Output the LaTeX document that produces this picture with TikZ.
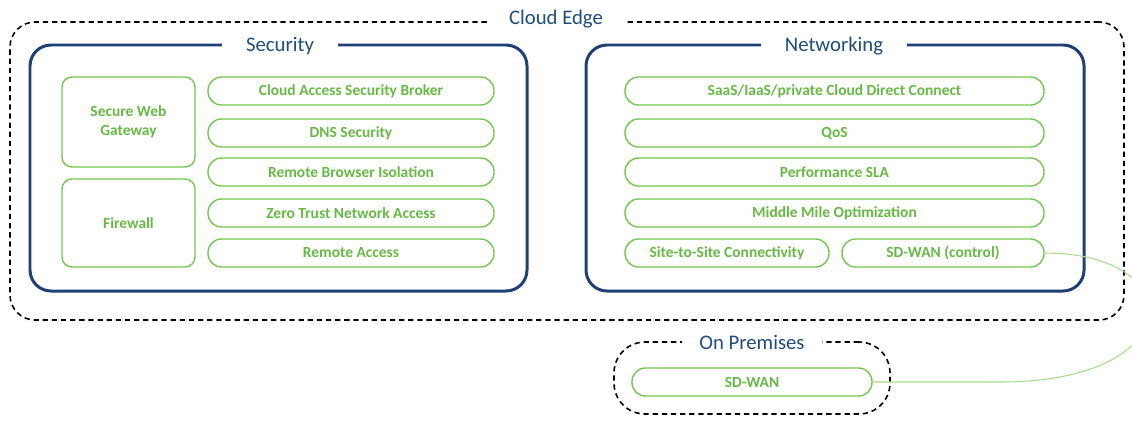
\documentclass[tikz,border=0pt]{standalone}
\usepackage{fontspec}
\setmainfont{Carlito}
\usepackage{xcolor}
\definecolor{edgeNavy}{HTML}{1F3F77}
\definecolor{labelBlue}{HTML}{1F4E79}
\definecolor{pillGreen}{HTML}{74C650}
\definecolor{pillText}{HTML}{66B944}
\definecolor{linkGreen}{HTML}{A6DB8C}
\usepackage{tikz}
\usetikzlibrary{positioning,calc}
\tikzset{
  zone/.style={rectangle,draw=black,line width=0.9pt,dash pattern=on 3pt off 2.2pt,rounded corners=0.5cm},
  group/.style={rectangle,draw=edgeNavy,line width=1.7pt,rounded corners=0.42cm,minimum height=4.92cm},
  title/.style={fill=white,text=labelBlue,font=\fontsize{11.8}{14}\selectfont,inner xsep=0.45cm,inner ysep=2pt},
  pill/.style={rectangle,draw=pillGreen,line width=0.8pt,rounded corners=0.27cm,minimum height=0.56cm,
    text=pillText,font=\bfseries\fontsize{8.8}{10}\selectfont,inner sep=1pt},
  tallbox/.style={rectangle,draw=pillGreen,line width=0.8pt,rounded corners=0.2cm,minimum width=2.66cm,
    text=pillText,font=\bfseries\fontsize{8.8}{11}\selectfont,align=center},
  link/.style={draw=linkGreen,line width=0.6pt},
}

\begin{document}
\begin{tikzpicture}[x=1cm,y=1cm]
  \useasboundingbox (0,0) rectangle (22.64,-8.42);

  \node[zone, minimum width=22.28cm, minimum height=5.96cm] (cloud) at (11.34,-3.42) {};
  \node[title] (cloudlbl) at (11.12,-0.38) {Cloud Edge};

  \node[group, minimum width=9.94cm] (security) at (5.57,-3.36) {};
  \node[title, inner xsep=0.48cm] (seclbl) at (5.60,-0.92) {Security};

  \node[group, minimum width=9.96cm] (networking) at (16.70,-3.36) {};
  \node[title, inner xsep=0.48cm] (netlbl) at (16.68,-0.92) {Networking};

  \node[tallbox, minimum height=1.80cm] (swg) at (2.57,-2.44) {Secure Web\\Gateway};
  \node[tallbox, minimum height=1.76cm] (firewall) at (2.57,-4.46) {Firewall};

  \node[pill, minimum width=5.72cm] (casb) at (7.02,-1.82) {Cloud Access Security Broker};
  \node[pill, minimum width=5.72cm] (dns)  at (7.02,-2.66) {DNS Security};
  \node[pill, minimum width=5.72cm] (rbi)  at (7.02,-3.44) {Remote Browser Isolation};
  \node[pill, minimum width=5.72cm] (ztna) at (7.02,-4.26) {Zero Trust Network Access};
  \node[pill, minimum width=5.72cm] (remote) at (7.02,-5.06) {Remote Access};

  \node[pill, minimum width=8.38cm] (direct) at (16.69,-1.82) {SaaS/IaaS/private Cloud Direct Connect};
  \node[pill, minimum width=8.38cm] (qos)    at (16.69,-2.66) {QoS};
  \node[pill, minimum width=8.38cm] (sla)    at (16.69,-3.44) {Performance SLA};
  \node[pill, minimum width=8.38cm] (mmo)    at (16.69,-4.26) {Middle Mile Optimization};
  \node[pill, minimum width=4.08cm] (s2s)    at (14.54,-5.06) {Site-to-Site Connectivity};
  \node[pill, minimum width=4.04cm] (sdctrl) at (18.86,-5.06) {SD-WAN (control)};

  \node[zone, rounded corners=0.62cm, minimum width=5.52cm, minimum height=1.44cm] (onprem) at (15.04,-7.56) {};
  \node[title, inner xsep=0.35cm] (onpremlbl) at (15.04,-6.84) {On Premises};
  \node[pill, minimum width=4.80cm] (sdwan) at (15.04,-7.64) {SD-WAN};

  \coordinate (bend) at (20.0,-7.64);
  \begin{scope}
    \clip (0,0) rectangle (22.64,-8.42);
    \draw[link] (sdctrl.east) .. controls +(2.92,0) and +(3.8,0) .. (bend) -- (sdwan.east);
  \end{scope}
\end{tikzpicture}
\end{document}
